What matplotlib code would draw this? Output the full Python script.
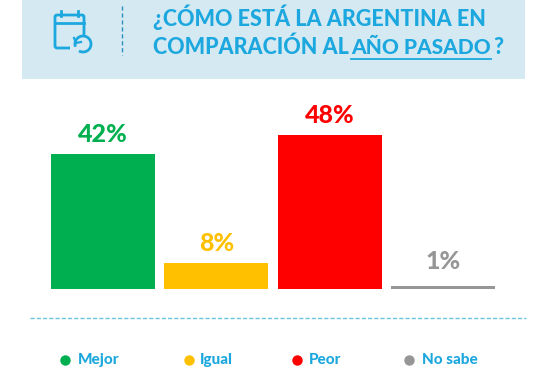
import matplotlib
matplotlib.use("Agg")
import matplotlib.pyplot as plt
from matplotlib.patches import Arc, FancyBboxPatch, Rectangle

plt.rcParams["font.family"] = ["Lato", "DejaVu Sans"]

categories = ["Mejor", "Igual", "Peor", "No sabe"]
values = [42, 8, 48, 1]
value_labels = ["42%", "8%", "48%", "1%"]
colors = ["#00b050", "#ffc000", "#ff0000", "#969696"]

W, H = 543, 384
BLUE = "#1ca8de"
HEAD_BG = "#d5e9f3"

fig = plt.figure(figsize=(W / 100, H / 100), dpi=100)

# overlay in pixel coordinates for header, divider and legend
bg = fig.add_axes([0, 0, 1, 1])
bg.set_xlim(0, W)
bg.set_ylim(H, 0)
bg.axis("off")

bg.add_patch(Rectangle((22, 0), 503, 79, color=HEAD_BG, lw=0))

# calendar icon
bg.add_patch(FancyBboxPatch((55, 15), 29, 33, boxstyle="round,pad=0,rounding_size=2",
                            fc="none", ec=BLUE, lw=2))
bg.add_patch(Rectangle((70, 35), 24, 20, color=HEAD_BG, lw=0, zorder=2))
bg.plot([55, 84], [23, 23], color=BLUE, lw=2)
bg.plot([61, 61], [11, 16], color=BLUE, lw=2)
bg.plot([78, 78], [11, 16], color=BLUE, lw=2)
bg.add_patch(Arc((83, 44), 16, 16, theta1=-200, theta2=120, color=BLUE, lw=2, zorder=3))
bg.plot([74, 76, 81], [38, 43, 42], color=BLUE, lw=1.6, zorder=3)

bg.plot([122, 122], [6, 55], color="#2a8fbd", lw=1, ls=(0, (3, 2)))

title_kw = dict(color=BLUE, fontsize=15.5, fontweight=900, va="center", ha="left")
bg.text(153, 17, "¿CÓMO ESTÁ LA ARGENTINA EN", **title_kw)
bg.text(153, 47, "COMPARACIÓN AL", **title_kw)
bg.text(351, 47, "AÑO PASADO", **{**title_kw, "fontsize": 15})
bg.text(493, 47, "?", **title_kw)
bg.plot([351, 491], [59, 59], color=BLUE, lw=1.3)

bg.plot([30, 526], [318, 318], color="#6cc5de", lw=1, ls=(0, (3, 1.5)))

legend_dot_x = [65, 189, 297, 409]
legend_text_x = [78, 200, 309, 422]
for name, col, px, tx in zip(categories, colors, legend_dot_x, legend_text_x):
    bg.plot([px], [360], "o", color=col, ms=7.5, mew=0)
    bg.text(tx, 360, name, color=BLUE, fontsize=11, fontweight=900,
            va="center", ha="left")

# bars
ax = fig.add_axes([51 / W, (H - 289) / H, 444 / W, 189 / H])
ax.patch.set_alpha(0)
x = list(range(len(values)))
bars = ax.bar(x, values, width=0.916, color=colors)
ax.set_xlim(-0.458, 3.458)
ax.set_ylim(0, 59)
ax.axis("off")
label_gap = [6, 6, 6, 9]
for b, lab, col, gap in zip(bars, value_labels, colors, label_gap):
    ax.annotate(lab, (b.get_x() + b.get_width() / 2, b.get_height()),
                xytext=(0, gap), textcoords="offset points", ha="center", va="bottom",
                color=col, fontsize=18, fontweight=900)

fig.savefig("out.png", dpi=100)
